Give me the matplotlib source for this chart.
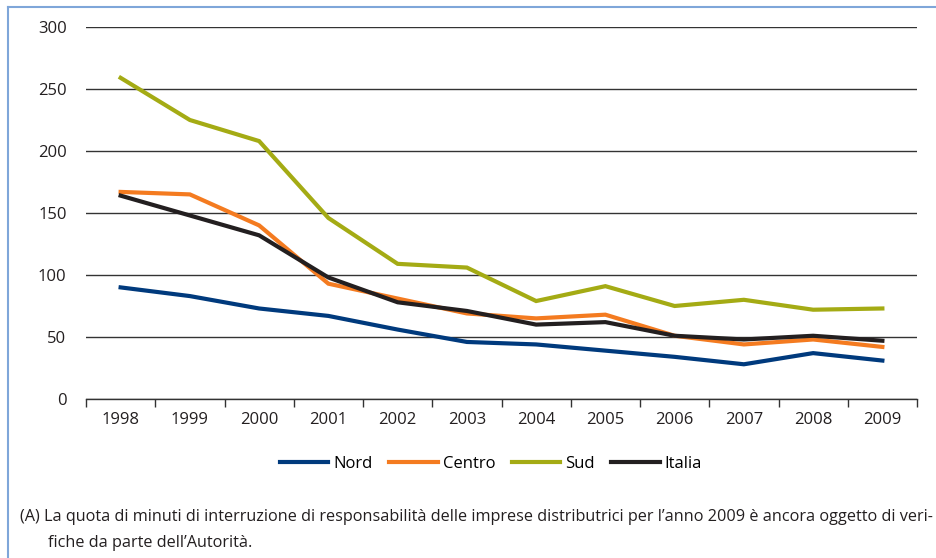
import matplotlib.pyplot as plt
from matplotlib.lines import Line2D

plt.rcParams['font.family'] = ['Open Sans', 'DejaVu Sans']

years = ["1998", "1999", "2000", "2001", "2002", "2003",
         "2004", "2005", "2006", "2007", "2008", "2009"]

nord = [90, 83, 73, 67, 56, 46, 44, 39, 34, 28, 37, 31]
centro = [167, 165, 140, 93, 81, 69, 65, 68, 51, 44, 48, 42]
sud = [259, 225, 208, 146, 109, 106, 79, 91, 75, 80, 72, 73]
italia = [164, 148, 132, 98, 78, 71, 60, 62, 51, 48, 51, 47]

series = [
    ("Nord", nord, "#003a7d"),
    ("Centro", centro, "#f47b20"),
    ("Sud", sud, "#a4ab14"),
    ("Italia", italia, "#231f20"),
]

note = ("(A) La quota di minuti di interruzione di responsabilità delle imprese "
        "distributrici per l\u2019anno 2009 è ancora oggetto di veri-")
note2 = "fiche da parte dell\u2019Autorità."

W, H = 936, 558
fig = plt.figure(figsize=(W / 100, H / 100), dpi=100)
ax = fig.add_axes([86 / W, 1 - 399 / H, (917 - 86) / W, (399 - 27) / H])

x = list(range(len(years)))
for name, vals, col in series:
    ax.plot(x, vals, color=col, lw=3.0, label=name, solid_joinstyle="miter")

ax.set_xlim(-0.5, len(years) - 0.5)
ax.set_ylim(0, 300)
ax.set_yticks(range(0, 301, 50))
ax.yaxis.grid(True, color="#333333", lw=1.0)
ax.set_axisbelow(True)
ax.tick_params(axis="y", length=0, pad=14, labelsize=12, labelcolor="#231f20")

ax.set_xticks(x)
ax.set_xticklabels(years)
ax.set_xticks([i - 0.5 for i in range(len(years) + 1)], minor=True)
ax.tick_params(axis="x", which="major", length=0, pad=9, labelsize=12,
               labelcolor="#231f20")
ax.tick_params(axis="x", which="minor", length=6, width=1.0, color="#333333",
               direction="out")

for s in ["top", "right", "left"]:
    ax.spines[s].set_visible(False)
ax.spines["bottom"].set_color("#333333")
ax.spines["bottom"].set_linewidth(1.0)

fig.legend(loc="center", bbox_to_anchor=(491 / W, 1 - 464 / H), ncol=4,
           frameon=False, fontsize=12, handlelength=2.9, handletextpad=0.3,
           columnspacing=1.0)

fig.text(20 / W, 1 - 517 / H, note, fontsize=11.7, va="center", color="#231f20")
fig.text(48 / W, 1 - 543 / H, note2, fontsize=11.7, va="center", color="#231f20")

# light blue frame on top and left
fig.add_artist(Line2D([8 / W, 1], [1 - 7 / H, 1 - 7 / H], color="#7fa6d9", lw=1.5))
fig.add_artist(Line2D([8 / W, 8 / W], [1 - 7 / H, 0], color="#7fa6d9", lw=1.5))

fig.savefig("out.png", dpi=100)
